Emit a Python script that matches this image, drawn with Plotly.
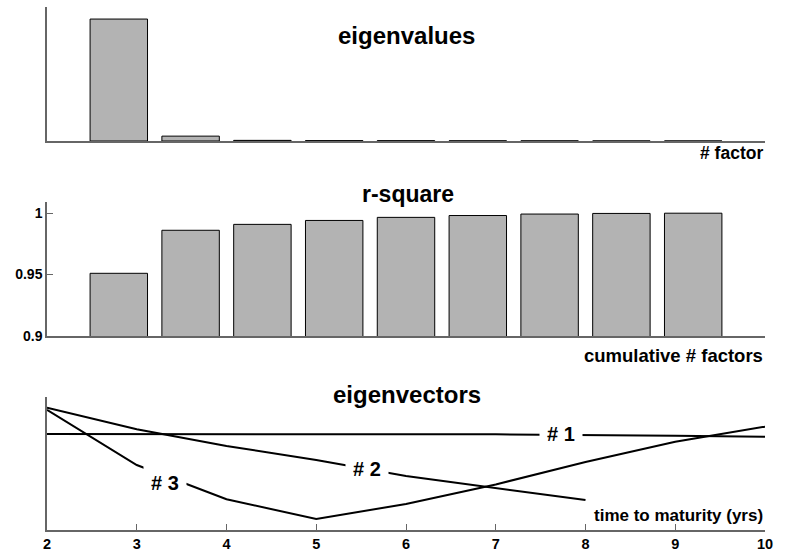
import plotly.graph_objects as go

# ---- data ----
factors = [1, 2, 3, 4, 5, 6, 7, 8, 9]
eigenvalues = [0.951, 0.038, 0.005, 0.003, 0.0025, 0.0015, 0.001, 0.0005, 0.0003]
r_square = [0.951, 0.986, 0.9908, 0.994, 0.9965, 0.998, 0.9992, 0.9997, 0.9999]

maturity = [2, 3, 4, 5, 6, 7, 8, 9, 10]
vec1 = [0.333, 0.334, 0.334, 0.333, 0.331, 0.330, 0.326, 0.318, 0.308]
vec2_maturity = [2, 3, 4, 5, 6, 7, 8]
vec2 = [0.577, 0.377, 0.222, 0.093, -0.056, -0.164, -0.278]
vec3 = [0.556, 0.046, -0.271, -0.454, -0.315, -0.134, 0.074, 0.262, 0.401]

r2_ticks = [0.9, 0.95, 1.0]
r2_ticktext = ["0.9", "0.95", "1"]

W, H = 798, 553
FONT = "Liberation Sans, Arial, sans-serif"
BAR_FILL = "#b3b3b3"
AXIS_COL = "#666666"


def fx(p):
    return p / W


def fy(p):
    return 1 - p / H


x_dom = [fx(47), fx(765)]

fig = go.Figure()

bar_style = dict(marker=dict(color=BAR_FILL, line=dict(color="black", width=1)),
                 width=0.8, showlegend=False, hoverinfo="skip")
fig.add_trace(go.Bar(x=factors, y=eigenvalues, xaxis="x", yaxis="y", **bar_style))
fig.add_trace(go.Bar(x=factors, y=r_square, xaxis="x2", yaxis="y2", **bar_style))

line_style = dict(mode="lines", line=dict(color="black", width=2), showlegend=False,
                  hoverinfo="skip", xaxis="x3", yaxis="y3")
fig.add_trace(go.Scatter(x=maturity, y=vec1, **line_style))
fig.add_trace(go.Scatter(x=vec2_maturity, y=vec2, **line_style))
fig.add_trace(go.Scatter(x=maturity, y=vec3, **line_style))

common_x = dict(domain=x_dom, showgrid=False, zeroline=False, showline=True,
                linecolor=AXIS_COL, linewidth=1.5, fixedrange=True, automargin=False)
common_y = dict(showgrid=False, zeroline=False, showline=True,
                linecolor=AXIS_COL, linewidth=1.5, fixedrange=True, automargin=False)

fig.update_layout(
    width=W, height=H, autosize=False,
    margin=dict(l=0, r=0, t=0, b=0, pad=0, autoexpand=False),
    showlegend=False,
    paper_bgcolor="white", plot_bgcolor="white",
    font=dict(family=FONT, color="black"),
    bargap=0.2,
    xaxis=dict(**common_x, anchor="y", range=[0, 10], showticklabels=False, ticks=""),
    yaxis=dict(**common_y, anchor="x", domain=[fy(141), fy(7)], range=[0, 1.045],
               showticklabels=False, ticks=""),
    xaxis2=dict(**common_x, anchor="y2", range=[0, 10], showticklabels=False, ticks=""),
    yaxis2=dict(**common_y, anchor="x2", domain=[fy(336), fy(202)], range=[0.9, 1.009],
                tickvals=r2_ticks, ticktext=r2_ticktext, ticks="inside", ticklen=6,
                tickcolor=AXIS_COL, tickwidth=1,
                tickfont=dict(family=FONT, size=14, weight="bold", color="black")),
    xaxis3=dict(**common_x, anchor="y3", range=[2, 10], tickvals=maturity,
                ticks="inside", ticklen=6, tickcolor=AXIS_COL, tickwidth=1,
                tickfont=dict(family=FONT, size=14.5, weight="bold", color="black")),
    yaxis3=dict(**common_y, anchor="x3", domain=[fy(530), fy(397)], range=[-0.556, 0.676],
                showticklabels=False, ticks=""),
)


def label(text, x, y, size, xanchor="center"):
    fig.add_annotation(text=f"<b>{text}</b>", x=fx(x), y=fy(y), xref="paper", yref="paper",
                       xanchor=xanchor, yanchor="middle", showarrow=False,
                       font=dict(family=FONT, size=size, color="black"))


label("eigenvalues", 406, 35, 24)
label("# factor", 765, 153, 17.5, xanchor="right")
label("r-square", 408, 194, 23)
label("cumulative # factors", 765, 355, 18.5, xanchor="right")
label("eigenvectors", 407, 394, 24)
label("time to maturity (yrs)", 765, 515, 17, xanchor="right")

# curve labels sit on the lines, breaking them with a white box
for text, xv, yv in [("# 1", 7.73, 0.333), ("# 2", 5.56, 0.009), ("# 3", 3.31, -0.123)]:
    fig.add_annotation(text=f"<b>{text}</b>", x=xv, y=yv, xref="x3", yref="y3",
                       showarrow=False, bgcolor="white", borderpad=7,
                       font=dict(family=FONT, size=20, color="black"))

fig.write_html("out.html")
